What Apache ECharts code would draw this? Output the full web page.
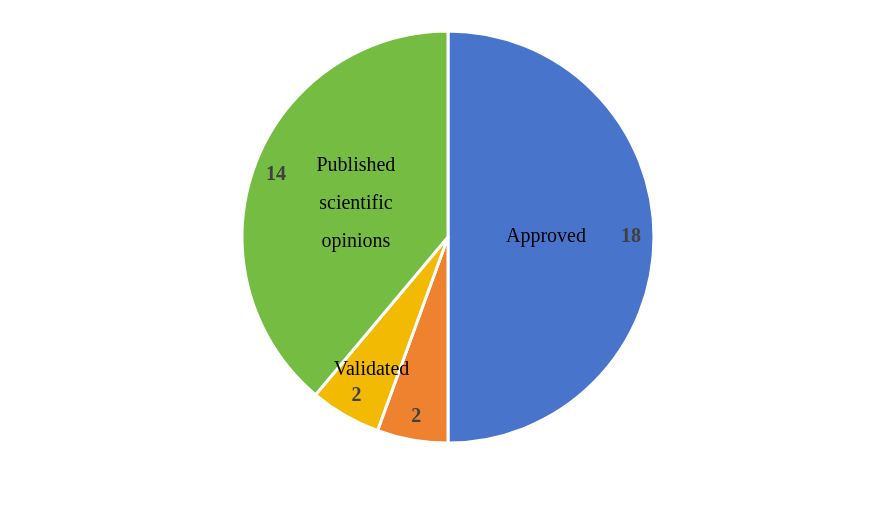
<!DOCTYPE html><html><head><meta charset="utf-8"><script src="https://cdn.jsdelivr.net/npm/echarts@6/dist/echarts.min.js"></script></head><body style="margin:0"><div id="c" style="width:887px;height:528px"></div><script>
const categories=['Approved','Received','Validated','Published\nscientific\nopinions'];
const values=[18,2,2,14];
const colors=['#4874CB','#EE822F','#F2BA02','#75BD42'];
const font='Liberation Serif';
const base={type:'pie',center:[448,237],startAngle:90,clockwise:true,silent:true,animation:false,labelLine:{show:false}};
function ds(showIdx,fmt,extra){return categories.map((n,i)=>({name:n,value:values[i],itemStyle:{color:'rgba(0,0,0,0)'},label:{show:showIdx.includes(i)}}));}
const chart=echarts.init(document.getElementById('c'));
chart.setOption({series:[
 Object.assign({},base,{radius:[0,206],data:categories.map((n,i)=>({name:n,value:values[i],itemStyle:{color:colors[i]}})),itemStyle:{borderColor:'#fff',borderWidth:3},label:{show:false}}),
 Object.assign({},base,{radius:[0,190],data:ds([0,3]),label:{position:'inside',formatter:'{b}',fontFamily:font,fontSize:20,color:'#000',align:'left',lineHeight:38}}),
 Object.assign({},base,{radius:[0,300],data:ds([1,2]),label:{position:'inside',formatter:'{b}',fontFamily:font,fontSize:20,color:'#000'}}),
 Object.assign({},base,{radius:[0,360],data:ds([0,1,2,3]),label:{position:'inside',formatter:'{c}',fontFamily:font,fontSize:20,fontWeight:'bold',color:'#404040'}})
]});
</script></body></html>
